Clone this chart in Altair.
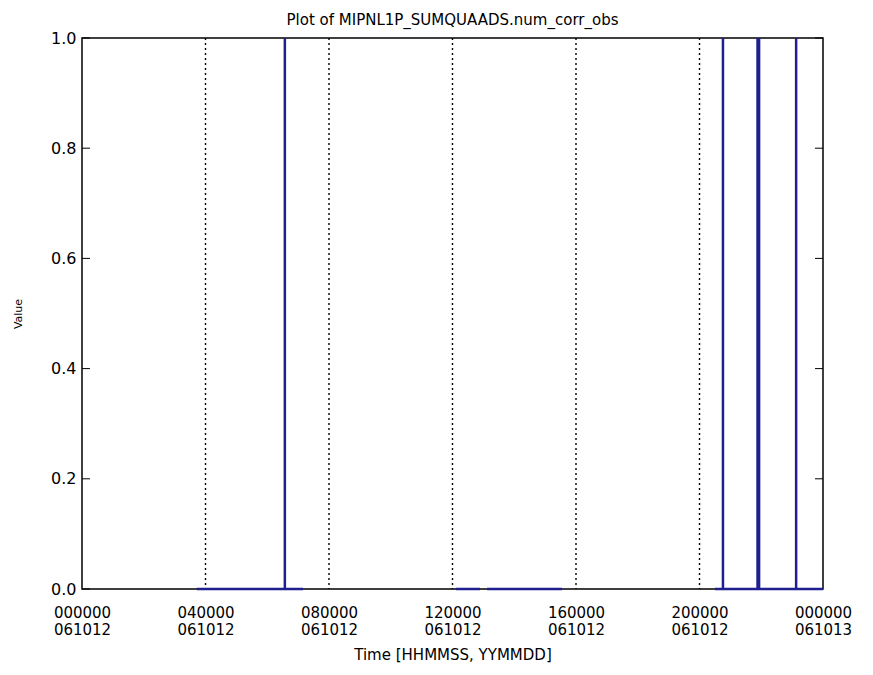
import json
import altair as alt
import pandas as pd

# ---- data (time in hours after 000000 061012) ----
baseline_starts = [3.72, 12.11, 13.12, 20.50]
baseline_ends = [7.16, 12.89, 15.55, 24.00]
spike_times = [6.57, 20.76, 21.88, 21.93, 23.13]
spike_value = 1.0

grid_hours = [4, 8, 12, 16, 20]
x_tick_hours = [0, 4, 8, 12, 16, 20, 24]
x_tick_time = ["000000", "040000", "080000", "120000", "160000", "200000", "000000"]
x_tick_date = ["061012", "061012", "061012", "061012", "061012", "061012", "061013"]
y_ticks = [0.0, 0.2, 0.4, 0.6, 0.8, 1.0]

title_text = "Plot of MIPNL1P_SUMQUAADS.num_corr_obs"
x_title = "Time [HHMMSS, YYMMDD]"
y_title = "Value"

# ---- build line table ----
rows = []
order = 0
for seg, (s, e) in enumerate(zip(baseline_starts, baseline_ends)):
    pts = [(s, 0.0)]
    for t in sorted(spike_times):
        if s <= t <= e:
            pts += [(t, 0.0), (t, spike_value), (t, 0.0)]
    pts.append((e, 0.0))
    for t, v in pts:
        rows.append({"t": t, "v": v, "seg": seg, "o": order})
        order += 1
line_df = pd.DataFrame(rows)
grid_df = pd.DataFrame({"t": grid_hours})
ytick_df = pd.DataFrame({"v": y_ticks})

W, H = 741, 551
FONT = "DejaVu Sans"
BLUE = "#1f1f8f"

label_expr = "[{tops}[indexof({hrs}, datum.value)], {bots}[indexof({hrs}, datum.value)]]".format(
    tops=json.dumps(x_tick_time), bots=json.dumps(x_tick_date), hrs=json.dumps(x_tick_hours)
)

xscale = alt.Scale(domain=[0, 24], nice=False, zero=False)
yscale = alt.Scale(domain=[0, 1], nice=False)

xaxis = alt.Axis(
    values=x_tick_hours, labelExpr=label_expr, grid=False, ticks=False, domain=False,
    labelFont=FONT, labelFontSize=15, labelColor="black", labelLineHeight=17,
    labelPadding=16, labelBaseline="top", labelFlush=False, labelOverlap=False,
    title=x_title, titleFont=FONT, titleFontSize=15, titleFontWeight="normal",
    titleColor="black", titlePadding=10,
)
yaxis = alt.Axis(
    values=y_ticks, format=".1f", grid=False, ticks=False, domain=False,
    labelFont=FONT, labelFontSize=16, labelColor="black", labelPadding=6,
    title=y_title, titleFont=FONT, titleFontSize=11, titleFontWeight="normal",
    titleColor="black", titlePadding=27,
)

base_line = alt.Chart(line_df).mark_line(color=BLUE, strokeWidth=2.5, clip=False).encode(
    x=alt.X("t:Q", scale=xscale, axis=xaxis),
    y=alt.Y("v:Q", scale=yscale, axis=yaxis),
    detail="seg:N",
    order="o:Q",
)

grid = alt.Chart(grid_df).mark_rule(color="black", strokeDash=[2, 3], strokeWidth=1.4).encode(
    x=alt.X("t:Q", scale=xscale),
)

ltick = alt.Chart(ytick_df).mark_rule(color="black", strokeWidth=1).encode(
    y=alt.Y("v:Q", scale=yscale), x=alt.value(0), x2=alt.value(8)
)
rtick = alt.Chart(ytick_df).mark_rule(color="black", strokeWidth=1).encode(
    y=alt.Y("v:Q", scale=yscale), x=alt.value(W - 8), x2=alt.value(W)
)

chart = (
    alt.layer(grid, ltick, rtick, base_line)
    .properties(
        width=W, height=H,
        title=alt.TitleParams(title_text, font=FONT, fontSize=15, fontWeight="normal",
                              color="black", anchor="middle", offset=2),
        autosize=alt.AutoSizeParams(type="none"),
        padding={"left": 74, "top": 30, "right": 42, "bottom": 80},
    )
    .configure(background="white")
    .configure_view(stroke="black", strokeWidth=1.5)
)

chart.save("out.html", embed_options={"renderer": "svg", "actions": False})
